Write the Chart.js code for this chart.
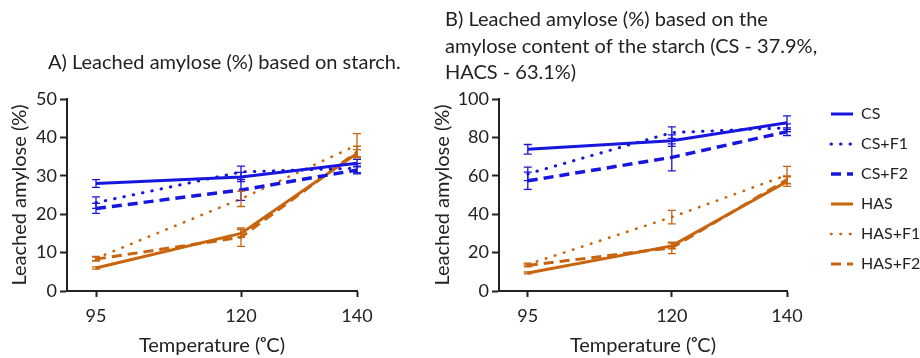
<!DOCTYPE html>
<html><head><meta charset="utf-8">
<script src="https://cdn.jsdelivr.net/npm/chart.js@4.4.1/dist/chart.umd.min.js"></script>
<style>
html,body{margin:0;padding:0;width:920px;height:358px;overflow:hidden;background:#fff;}
#a{position:absolute;left:0;top:0;width:420px;height:358px;}
#b{position:absolute;left:420px;top:0;width:560px;height:358px;}
</style></head><body>
<canvas id="a" width="420" height="358"></canvas>
<canvas id="b" width="560" height="358"></canvas>
<script>
// ---------- data ----------
const temperatures = [95, 120, 140];
const xTickValues = [95, 120, 140];
const seriesNames = ['CS', 'CS+F1', 'CS+F2', 'HAS', 'HAS+F1', 'HAS+F2'];

// Panel A: leached amylose (%) based on starch
const csA      = [28.0, 29.7, 33.3];
const csF1A    = [23.0, 31.0, 32.0];
const csF2A    = [21.5, 26.3, 31.5];
const hasA     = [6.0, 15.0, 35.8];
const hasF1A   = [8.5, 24.0, 38.0];
const hasF2A   = [8.3, 14.0, 36.2];
const csAErr    = [1.0, 1.2, 1.0];
const csF1AErr  = [1.5, 1.5, 1.2];
const csF2AErr  = [1.3, 2.7, 1.0];
const hasAErr   = [0.3, 1.0, 1.0];
const hasF1AErr = [0.5, 2.0, 3.0];
const hasF2AErr = [0.5, 2.4, 1.5];

// Panel B: leached amylose (%) based on amylose content
const csB      = [73.8, 78.3, 87.7];
const csF1B    = [61.0, 82.5, 85.0];
const csF2B    = [57.4, 69.6, 83.0];
const hasB     = [9.4, 23.5, 57.0];
const hasF1B   = [13.8, 38.5, 60.4];
const hasF2B   = [13.3, 22.5, 58.0];
const csBErr    = [2.5, 3.0, 3.5];
const csF1BErr  = [3.5, 3.0, 2.0];
const csF2BErr  = [4.5, 7.0, 2.0];
const hasBErr   = [0.5, 1.5, 2.5];
const hasF1BErr = [0.7, 3.5, 4.5];
const hasF2BErr = [0.7, 3.0, 2.0];

const yTicksA = {min: 0, max: 50, step: 10};
const yTicksB = {min: 0, max: 100, step: 20};

const titleA = ['A) Leached amylose (%) based on starch.'];
const titleB = ['B) Leached amylose (%) based on the', 'amylose content of the starch (CS - 37.9%,', 'HACS - 63.1%)'];
const xTitle = 'Temperature (\u1D52C)';
const yTitle = 'Leached amylose (%)';

// ---------- styles ----------
const BLUE = '#1616DE', ORANGE = '#C8640E', INK = '#222222', FONT = 'Lato';
const styles = [
  {borderColor: BLUE, borderWidth: 3, borderDash: [], borderCapStyle: 'butt'},
  {borderColor: BLUE, borderWidth: 3, borderDash: [0.5, 9], borderCapStyle: 'round'},
  {borderColor: BLUE, borderWidth: 3.5, borderDash: [10, 6], borderCapStyle: 'butt'},
  {borderColor: ORANGE, borderWidth: 3, borderDash: [], borderCapStyle: 'butt'},
  {borderColor: ORANGE, borderWidth: 2.6, borderDash: [0.5, 9], borderCapStyle: 'round'},
  {borderColor: ORANGE, borderWidth: 3, borderDash: [10, 6], borderCapStyle: 'butt'}
];

function makeDatasets(values, errors) {
  return values.map((vals, k) => Object.assign({
    label: seriesNames[k],
    data: temperatures.map((t, i) => ({x: t, y: vals[i]})),
    errors: errors[k],
    backgroundColor: styles[k].borderColor,
    fill: false, tension: 0, pointRadius: 0, pointHoverRadius: 0
  }, styles[k]));
}

// ---------- plugins ----------
const errorBars = {
  id: 'errorBars',
  afterDatasetsDraw(chart) {
    const ctx = chart.ctx, xs = chart.scales.x, ys = chart.scales.y;
    chart.data.datasets.forEach(ds => {
      if (!ds.errors) return;
      ctx.save();
      ctx.strokeStyle = ds.borderColor; ctx.lineWidth = 1.3; ctx.setLineDash([]);
      ds.data.forEach((p, j) => {
        const x = xs.getPixelForValue(p.x);
        const yT = ys.getPixelForValue(p.y + ds.errors[j]);
        const yB = ys.getPixelForValue(p.y - ds.errors[j]);
        ctx.beginPath();
        ctx.moveTo(x, yT); ctx.lineTo(x, yB);
        ctx.moveTo(x - 4, yT); ctx.lineTo(x + 4, yT);
        ctx.moveTo(x - 4, yB); ctx.lineTo(x + 4, yB);
        ctx.stroke();
      });
      ctx.restore();
    });
  }
};
const panelTitle = {
  id: 'panelTitle',
  afterDraw(chart, args, opts) {
    const ctx = chart.ctx;
    ctx.save();
    ctx.font = opts.size + 'px ' + FONT; ctx.fillStyle = INK;
    ctx.textAlign = 'left'; ctx.textBaseline = 'middle';
    for (let i = 0; i < opts.lines.length; i++) ctx.fillText(opts.lines[i], opts.x, opts.y + i * opts.lh);
    ctx.restore();
  }
};

function scalesFor(yt, yAxisWidth, yTitlePad) {
  return {
    x: {
      type: 'linear', min: 90, max: 140,
      afterBuildTicks: s => { s.ticks = xTickValues.map(v => ({value: v})); },
      afterFit: s => { s.height = 67; },
      grid: {display: true, drawOnChartArea: false, drawTicks: true, tickLength: 6, tickWidth: 2, color: INK},
      border: {display: true, color: INK, width: 2},
      ticks: {color: INK, font: {family: FONT, size: 18}, padding: 8, maxRotation: 0},
      title: {display: true, text: xTitle, color: INK, font: {family: FONT, size: 20}, padding: {top: 0, bottom: 0}}
    },
    y: {
      type: 'linear', min: yt.min, max: yt.max,
      ticks: {stepSize: yt.step, color: INK, font: {family: FONT, size: 18}, padding: 3},
      afterFit: s => { s.width = yAxisWidth; },
      grid: {display: true, drawOnChartArea: false, drawTicks: true, tickLength: 7, tickWidth: 2, color: INK},
      border: {display: true, color: INK, width: 2},
      title: {display: true, text: yTitle, color: INK, font: {family: FONT, size: 20}, padding: {top: yTitlePad, bottom: 0}}
    }
  };
}

Chart.defaults.animation = false;

// ---------- Chart A ----------
new Chart(document.getElementById('a'), {
  type: 'line',
  data: {datasets: makeDatasets([csA, csF1A, csF2A, hasA, hasF1A, hasF2A],
                                [csAErr, csF1AErr, csF2AErr, hasAErr, hasF1AErr, hasF2AErr])},
  options: {
    responsive: false, animation: false,
    layout: {padding: {top: 99, right: 63, bottom: 0, left: 0}},
    scales: scalesFor(yTicksA, 67, 8),
    plugins: {
      legend: {display: false}, tooltip: {enabled: false},
      panelTitle: {lines: titleA, x: 48, y: 63, lh: 26.5, size: 20}
    }
  },
  plugins: [errorBars, panelTitle]
});

// ---------- Chart B ----------
const LEG_FONT = 16, LEG_PAD = 14, LEG_BOX = 22;
const mctx = document.createElement('canvas').getContext('2d');
mctx.font = LEG_FONT + 'px ' + FONT;
const maxText = Math.max(...seriesNames.map(n => mctx.measureText(n).width));
const legendWidth = LEG_PAD + LEG_BOX + LEG_FONT / 2 + maxText + 10;
const legendLeft = 397;   // legend box left inside canvas B
const padRight = 560 - legendLeft - legendWidth;

const scalesB = scalesFor(yTicksB, 79, 11);
scalesB.y2 = {type: 'linear', position: 'right', display: true,
  grid: {display: false, drawTicks: false}, ticks: {display: false}, border: {display: false},
  afterFit: s => { s.width = 30; }};
scalesB.x2 = {type: 'linear', position: 'top', display: true,
  grid: {display: false, drawTicks: false}, ticks: {display: false}, border: {display: false},
  afterFit: s => { s.height = 7; }};

new Chart(document.getElementById('b'), {
  type: 'line',
  data: {datasets: makeDatasets([csB, csF1B, csF2B, hasB, hasF1B, hasF2B],
                                [csBErr, csF1BErr, csF2BErr, hasBErr, hasF1BErr, hasF2BErr])},
  options: {
    responsive: false, animation: false,
    layout: {padding: {top: 92, right: padRight, bottom: 0, left: 0}},
    scales: scalesB,
    plugins: {
      tooltip: {enabled: false},
      legend: {
        display: true, position: 'right', align: 'start', fullSize: true, maxWidth: 400,
        labels: {
          usePointStyle: true, pointStyle: 'line', pointStyleWidth: LEG_BOX, padding: LEG_PAD,
          color: INK, font: {family: FONT, size: LEG_FONT},
          generateLabels: chart => Chart.defaults.plugins.legend.labels.generateLabels(chart).map(item => {
            const ds = chart.data.datasets[item.datasetIndex];
            return Object.assign(item, {lineDash: ds.borderDash, lineCap: ds.borderCapStyle,
                                        lineWidth: ds.borderWidth, strokeStyle: ds.borderColor,
                                        fillStyle: ds.borderColor, pointStyle: 'line'});
          })
        }
      },
      panelTitle: {lines: titleB, x: 25, y: 20, lh: 26.5, size: 20}
    }
  },
  plugins: [errorBars, panelTitle]
});
</script>
</body></html>
